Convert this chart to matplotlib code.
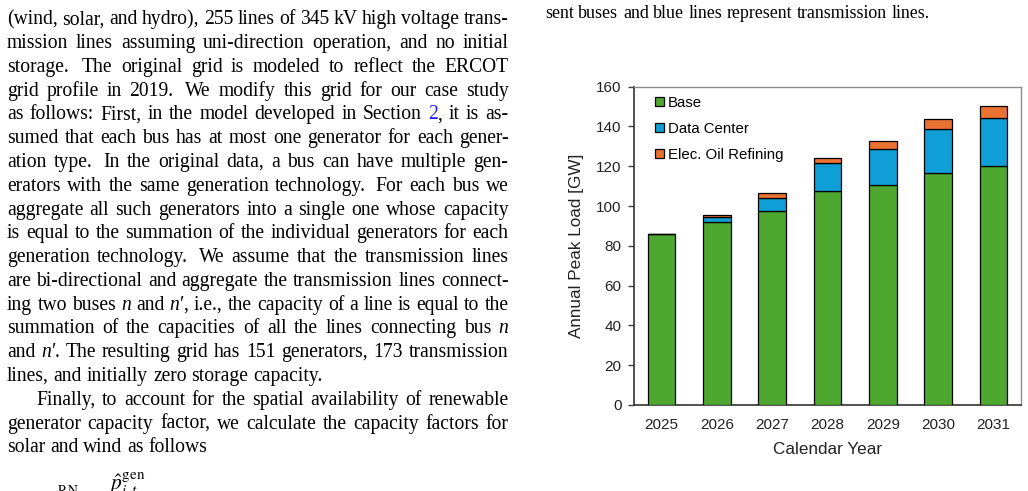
import re
import matplotlib
matplotlib.use("Agg")
import matplotlib.pyplot as plt

# ---------------- chart data ----------------
years = ["2025", "2026", "2027", "2028", "2029", "2030", "2031"]
base = [85.8, 92.1, 97.5, 107.5, 110.7, 116.7, 120.1]
data_center = [0.0, 2.5, 6.5, 14.0, 17.9, 22.0, 24.3]
oil_refining = [0.0, 1.0, 2.4, 2.8, 4.1, 5.0, 5.9]
series_names = ["Base", "Data Center", "Elec. Oil Refining"]
series_colors = ["#4EA72E", "#0F9ED5", "#E97132"]
y_ticks = [0, 20, 40, 60, 80, 100, 120, 140, 160]

# ---------------- page text ----------------
left_lines = [
    "(wind, solar, and hydro), 255 lines of 345 kV high voltage trans-",
    "mission lines assuming uni-direction operation, and no initial",
    "storage.  The original grid is modeled to reflect the ERCOT",
    "grid profile in 2019.  We modify this grid for our case study",
    "as follows: First, in the model developed in Section {2}, it is as-",
    "sumed that each bus has at most one generator for each gener-",
    "ation type.  In the original data, a bus can have multiple gen-",
    "erators with the same generation technology.  For each bus we",
    "aggregate all such generators into a single one whose capacity",
    "is equal to the summation of the individual generators for each",
    "generation technology.  We assume that the transmission lines",
    "are bi-directional and aggregate the transmission lines connect-",
    "ing two buses _n_ and _n\u2032_, i.e., the capacity of a line is equal to the",
    "summation of the capacities of all the lines connecting bus _n_",
    "and _n\u2032_. The resulting grid has 151 generators, 173 transmission",
    "lines, and initially zero storage capacity.",
    "Finally, to account for the spatial availability of renewable",
    "generator capacity factor, we calculate the capacity factors for",
    "solar and wind as follows",
]
justified = [True] * 15 + [False, True, True, False]
indents = [0] * 16 + [29] + [0, 0]
right_text = "sent buses and blue lines represent transmission lines."

W, H = 1028, 491
fig = plt.figure(figsize=(W / 100, H / 100), dpi=100)
renderer = fig.canvas.get_renderer()
plt.rcParams["mathtext.fontset"] = "stix"

SERIF = "Liberation Serif"
BODY_SIZE = 14.1
CAPTION_SIZE = 12.9
LINK = "#1f1fff"


def fx(x):
    return x / W


def fy(y):
    return 1 - y / H


def parse_word(w):
    segs = []
    for m in re.finditer(r"_([^_]+)_|\{([^}]+)\}|([^_{]+)", w):
        if m.group(1):
            segs.append((m.group(1), "i"))
        elif m.group(2):
            segs.append((m.group(2), "b"))
        else:
            segs.append((m.group(3), "n"))
    return segs


def make_word(w, size):
    items = []
    total = 0.0
    for txt, st in parse_word(w):
        t = fig.text(0, 0, txt, family=SERIF, fontsize=size,
                     style="italic" if st == "i" else "normal",
                     color=LINK if st == "b" else "black",
                     va="baseline", ha="left")
        wd = t.get_window_extent(renderer).width
        items.append((t, wd))
        total += wd
    return items, total


def draw_line(line, x0, x1, yb, just, size):
    parts = re.split(r"( +)", line)
    words, gaps = [], []
    for p in parts:
        if p.strip() == "":
            if p:
                gaps.append(1.0 if len(p) == 1 else 1.5)
        else:
            words.append(make_word(p, size))
    sp = fig.text(0, 0, "a a", family=SERIF, fontsize=size)
    sa = fig.text(0, 0, "aa", family=SERIF, fontsize=size)
    space = sp.get_window_extent(renderer).width - sa.get_window_extent(renderer).width
    sp.remove()
    sa.remove()
    total = sum(w[1] for w in words)
    if just and gaps:
        unit = (x1 - x0 - total) / sum(gaps)
    else:
        unit = space
    x = x0
    for i, (items, wd) in enumerate(words):
        xx = x
        for t, sw in items:
            t.set_position((fx(xx), fy(yb)))
            xx += sw
        x += wd
        if i < len(gaps):
            x += unit * gaps[i]


LX0, LX1 = 7.0, 508.5
for i, line in enumerate(left_lines):
    draw_line(line, LX0 + indents[i], LX1, 24.3 + 23.78 * i, justified[i], BODY_SIZE)

draw_line(right_text, 545.0, 1020.0, 18.0, False, CAPTION_SIZE)

# partially visible equation at the bottom of the page
fig.text(fx(48), fy(503), r"$c^{\mathrm{RN}}_{i,t}=$", fontsize=BODY_SIZE, ha="left", va="baseline")
fig.text(fx(109), fy(490), r"$\hat{p}^{\mathrm{gen}}_{i,t}$", fontsize=15.5, ha="left", va="baseline")

# ---------------- chart ----------------
SANS = "Liberation Sans"
ax = fig.add_axes([634 / W, 1 - 405 / H, 387 / W, 318.3 / H])
x = list(range(len(years)))
bottom2 = [b + d for b, d in zip(base, data_center)]
for vals, bot, name, col in [
    (base, None, series_names[0], series_colors[0]),
    (data_center, base, series_names[1], series_colors[1]),
    (oil_refining, bottom2, series_names[2], series_colors[2]),
]:
    ax.bar(x, vals, width=0.5, bottom=bot, color=col, edgecolor="black",
           linewidth=0.9, label=name, zorder=3)

ax.set_xlim(-0.5, len(years) - 0.5)
ax.set_ylim(0, 160)
ax.set_yticks(y_ticks)
ax.set_yticklabels([str(v) for v in y_ticks], family=SANS, fontsize=11, color="#222222")
ax.set_xticks(x)
ax.set_xticklabels(years, family=SANS, fontsize=11, color="#222222")
ax.tick_params(axis="x", length=0, pad=9.5)
ax.tick_params(axis="y", direction="out", length=4, width=1, color="#404040", pad=5)
for s in ["left", "bottom"]:
    ax.spines[s].set_color("#333333")
    ax.spines[s].set_linewidth(1.2)
for s in ["top", "right"]:
    ax.spines[s].set_color("#8c8c8c")
    ax.spines[s].set_linewidth(1.0)

ax.set_xlabel("Calendar Year", family=SANS, fontsize=12.3, color="#222222", labelpad=7)
ax.set_ylabel("Annual Peak Load [GW]", family=SANS, fontsize=12.3, color="#222222", labelpad=9)

leg = ax.legend(loc="upper left", bbox_to_anchor=(0.055, 0.971), frameon=False,
                prop={"family": SANS, "size": 10.8}, handlelength=0.55, handleheight=0.55,
                handletextpad=0.3, labelspacing=0.79, borderpad=0, borderaxespad=0)

fig.savefig("out.png", dpi=100)
